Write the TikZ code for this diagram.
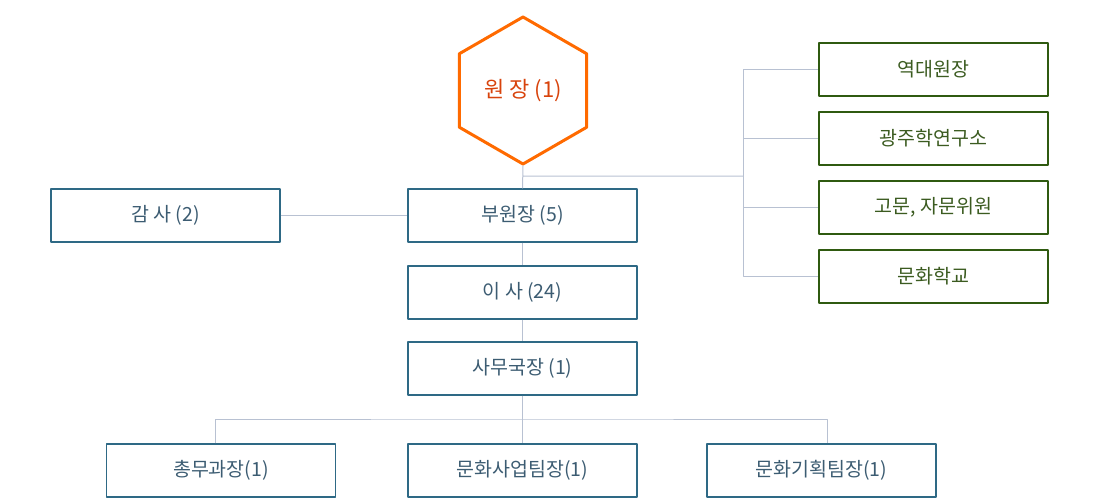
\documentclass[tikz,border=0pt]{standalone}
\usepackage{fontspec}
\newfontfamily\kr{Noto Sans CJK KR}
\usetikzlibrary{shapes.geometric}
\definecolor{hexline}{HTML}{FF6A00}
\definecolor{hextext}{HTML}{D8430C}
\definecolor{boxline}{HTML}{2E6985}
\definecolor{boxtext}{HTML}{3C5C72}
\definecolor{grnline}{HTML}{2F5A10}
\definecolor{grntext}{HTML}{3B5B20}
\definecolor{wire}{HTML}{B8C1D2}
\begin{document}
\begin{tikzpicture}[x=1pt,y=-1pt,font=\kr\fontsize{19.5}{22}\selectfont,line join=round,
	box/.style={draw=boxline,line width=1.2pt,text=boxtext,minimum width=229pt,minimum height=53pt,inner sep=0pt},
	gbox/.style={box,draw=grnline,text=grntext},
	wireline/.style={draw=wire,line width=1pt}]
	\useasboundingbox (0,0) rectangle (1100,500);
	\node[regular polygon,regular polygon sides=6,shape border rotate=30,minimum size=147pt,inner sep=0pt,
		draw=hexline,line width=3pt,text=hextext,font=\kr\fontsize{22}{24}\selectfont] (jang) at (523,90.5) {원 장 (1)};
	\node[box] (gamsa) at (165.5,215.5) {감 사 (2)};
	\node[box] (buwon) at (522.5,215.5) {부원장 (5)};
	\node[box] (isa) at (522.5,292.5) {이 사 (24)};
	\node[box] (samu) at (522.5,368.5) {사무국장 (1)};
	\node[box] (chongmu) at (221,470.5) {총무과장(1)};
	\node[box] (saeop) at (522.5,470.5) {문화사업팀장(1)};
	\node[box] (gihoek) at (821.5,470.5) {문화기획팀장(1)};
	\foreach \n/\y/\t in {yeokdae/69.5/역대원장,yeonguso/138.5/광주학연구소,gomun/207.5/{고문, 자문위원},hakgyo/276.5/문화학교}
	\node[gbox] (\n) at (933.5,\y) {\t};
	\coordinate (hub) at (743,176);
	\coordinate (bus) at (523,419);
	% lines
	\draw[wireline] (jang.south) -- (buwon.north) (jang.south|-hub) -- (hub);
	\foreach \n in {yeokdae,yeonguso,gomun,hakgyo}
	\draw[wireline] (hub) |- (\n.west);
	\draw[wireline] (gamsa.east) -- (buwon.west);
	\draw[wireline] (buwon.south) -- (isa.north) (isa.south) -- (samu.north) (samu.south) -- (saeop.north);
	\draw[wireline] ([xshift=-6pt]chongmu.north) |- (bus) -| ([xshift=5.5pt]gihoek.north);
\end{tikzpicture}
\end{document}
